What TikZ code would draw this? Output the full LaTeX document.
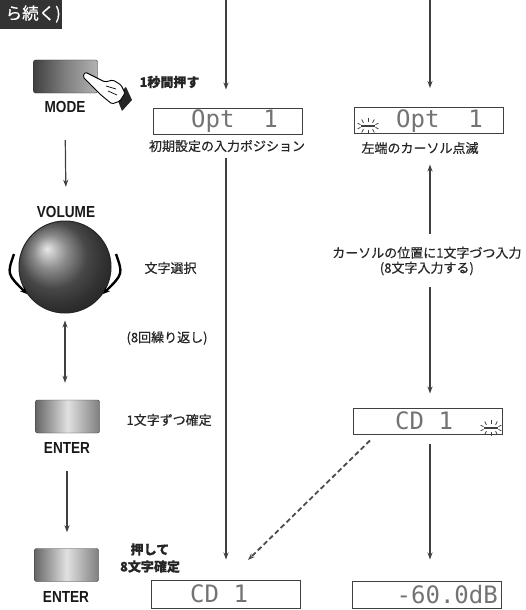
\documentclass[tikz,border=0pt]{standalone}
\usepackage{fontspec}
\newfontfamily\jp[FakeBold=0.5]{Noto Sans CJK JP}
\newfontfamily\keyfont[FakeStretch=0.85]{Liberation Sans}
\newfontfamily\lcd{DejaVu Sans Mono}
\usetikzlibrary{arrows.meta,positioning}

% blinking cursor drawn on the display
\newcommand\blinkmark[1]{%
  \begin{scope}[shift={(#1)},black!75]
    \draw[line width=1.6pt] (-7,0) -- (7,0);
    \foreach \a in {-160,-125,-90,-55,-20}
      \draw[line width=0.8pt] (\a:8 and 4) -- (\a:11 and 8);
    \foreach \a in {160,125,90,55,20}
      \draw[line width=0.8pt] (\a:8 and 4) -- (\a:11 and 8);
  \end{scope}}

\begin{document}
\begin{tikzpicture}
                [x=1pt, y=-1pt, >={Stealth[length=7pt,width=5pt]},
                flow/.style={draw=black!75,line width=1.2pt},
                key/.style={draw=black!80,rounded corners=2pt,minimum width=64pt,minimum height=33pt,
                    left color=black!60,right color=black!50,middle color=black!12},
                keylabel/.style={font=\keyfont\bfseries\fontsize{16}{16}\selectfont,text=black!90},
                lcdbox/.style={draw=black!75,line width=1pt,minimum width=149pt,minimum height=26pt,inner sep=0pt},
                lcdtext/.style={font=\lcd\fontsize{24}{24}\selectfont,text=black!55,inner sep=0pt},
                note/.style={font=\jp\fontsize{13}{15}\selectfont,text=black!85},
                ]
                \useasboundingbox (0,0) rectangle (526,610);

                % tab at the top corner
                \fill[black!80] (0,0) rectangle (62,29);
                \node[anchor=east,text=white,font=\jp\fontsize{16.5}{17}\selectfont,inner sep=0pt]
                    (tab) at (61,14) {ら続く)};

                % keys on the left
                \node[key,left color=black!75,right color=black!30,middle color=black!50]
                    (modekey) at (65.5,76.5) {};
                \node[keylabel] (modelabel) at (65,107) {MODE};
                \fill[black!85] (116,96) -- (126,87) -- (132,100) -- (122,111) -- cycle;
                \draw[fill=white,line width=0.9pt,line join=round,rounded corners=1.5pt]
                    (85,72) -- (105,82) -- (113,80) -- (121,85) -- (125,93) -- (120,101)
                    -- (112,104) -- (101,95) -- (83,77) -- cycle;
                \draw[line width=0.7pt] (106,86) -- (116,89) (108,91) -- (117,95);

                \node[keylabel] (volumelabel) at (66,212) {VOLUME};
                \node[circle,draw=black!85,line width=1pt,minimum size=92pt,ball color=black!60]
                    (knob) at (65,267) {};
                \draw[line width=2.4pt,-{Stealth[length=7pt,width=6pt]}]
                    (14,254) .. controls (7,274) .. (27,294);
                \draw[line width=2.4pt,-{Stealth[length=7pt,width=6pt]}]
                    (116,254) .. controls (123,274) .. (103,294);

                \node[key] (enterkey) at (67.5,416.5) {};
                \node[keylabel] (enterlabel) at (67,448) {ENTER};
                \node[key] (enterkeyb) at (66.5,565) {};
                \node[keylabel] (enterlabelb) at (66,597) {ENTER};

                \draw[flow,->,shorten <=24pt,shorten >=16pt] (modelabel.south) -- (volumelabel.north);
                \draw[flow,<->,shorten <=7pt,shorten >=17pt] (knob.south) -- (knob.south |- enterkey.north);
                \draw[flow,->,shorten <=14pt,shorten >=16pt] (enterlabel.south) -- (enterlabel.south |- enterkeyb.north);

                % texts beside the keys
                \node[note,font=\jp\bfseries\fontsize{13}{15}\selectfont,anchor=west]
                    (presslabel) at (136,82) {1秒間押す};
                \node[note,anchor=west] (selectnote) at (141,268) {文字選択};
                \node[note,anchor=west] (repeatnote) at (123,338) {(8回繰り返し)};
                \node[note,anchor=west] (confirmnote) at (123,420) {1文字ずつ確定};
                \node[note,font=\jp\bfseries\fontsize{13}{17}\selectfont,align=center]
                    (fixnote) at (150,558) {押して\\8文字確定};

                % displays
                \node[lcdbox] (optdisp) at (227.5,121) {};
                \node[lcdtext,anchor=west] (opttext) at (191,121) {Opt\ \ 1};
                \node[note] (optnote) at (227,146) {初期設定の入力ポジション};

                \node[lcdbox] (blinkdisp) at (429,120.5) {};
                \node[lcdtext,anchor=west] (blinktext) at (396,121) {Opt\ \ 1};
                \blinkmark{368,126}
                \node[note] (blinknote) at (420,148) {左端のカーソル点滅};

                \node[note,align=center,anchor=east] (inputnote) at (525,261)
                    {カーソルの位置に1文字づつ入力\\(8文字入力する)};

                \node[lcdbox] (cddisp) at (428,421) {};
                \node[lcdtext,anchor=west] (cdtext) at (395,421) {CD\ 1};
                \blinkmark{491,428}

                \node[lcdbox,minimum height=28pt] (cdfinal) at (226,594) {};
                \node[lcdtext,anchor=west] (cdfinaltext) at (190,594) {CD\ 1};
                \node[lcdbox,minimum height=27pt] (voldisp) at (426.5,594.5) {};
                \node[lcdtext,anchor=east] (voltext) at (498,595) {-60.0dB};

                % flow between the displays
                \coordinate (topa) at (226,0);
                \coordinate (topb) at (430,0);
                \coordinate (dashend) at (248,560);
                \draw[flow,->,shorten >=18pt] (topa) -- (topa |- optdisp.north);
                \draw[flow,->,shorten >=19pt] (topb) -- (topb |- blinkdisp.north);
                \draw[flow,->,shorten <=2pt,shorten >=20pt] (optnote.south -| topa) -- (topa |- cdfinal.north);
                \draw[flow,->,shorten <=9pt,shorten >=7pt] (inputnote.north -| topb) -- (blinknote.south -| topb);
                \draw[flow,->,shorten <=8pt,shorten >=14pt] (inputnote.south -| topb) -- (topb |- cddisp.north);
                \draw[flow,->,shorten <=9pt,shorten >=21pt] (cddisp.south -| topb) -- (topb |- voldisp.north);
                \draw[flow,draw=black!70,dash pattern=on 5pt off 3pt,line width=1.8pt,->]
                    ([xshift=17pt,yshift=-6pt]cddisp.south west) -- (dashend);
            \end{tikzpicture}
\end{document}
